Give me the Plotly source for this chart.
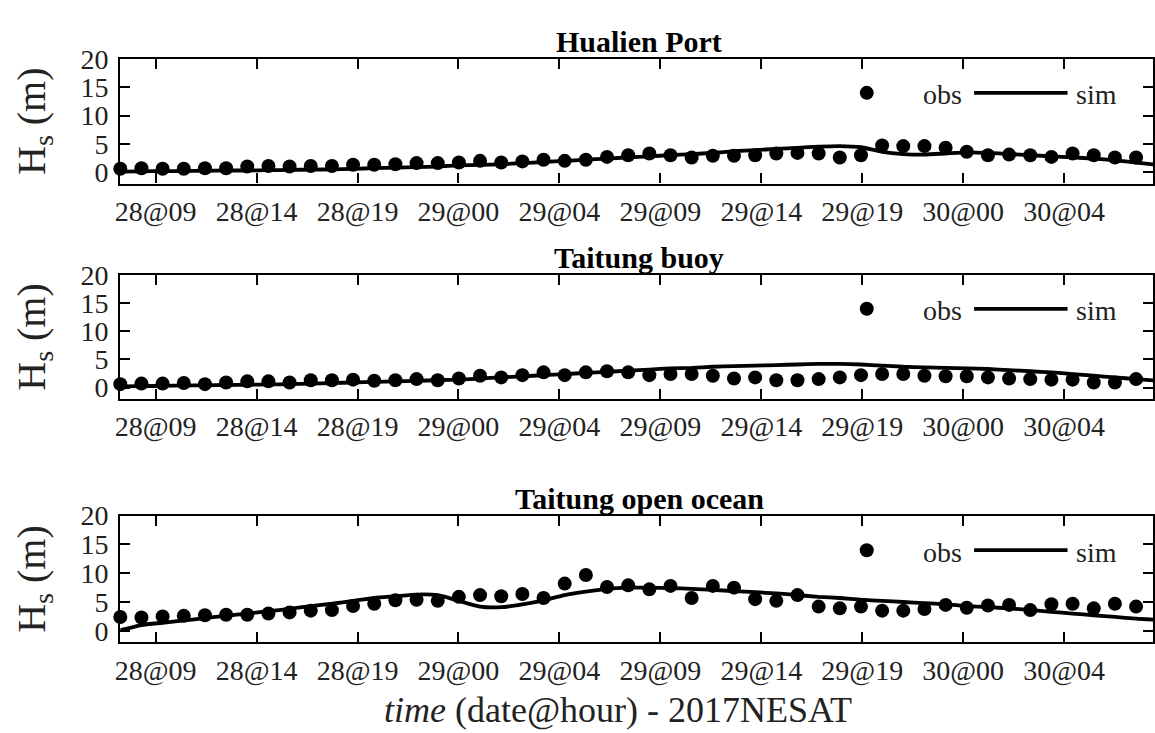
import plotly.graph_objects as go

# Hourly time index (hours since the first record)
hours = list(range(50))

tick_labels = ["28@09", "28@14", "28@19", "29@00", "29@04",
               "29@09", "29@14", "29@19", "30@00", "30@04"]
tick_first = 1.67   # hour of the first labelled tick
tick_step = 4.77    # hours between labelled ticks

stations = ["Hualien Port", "Taitung buoy", "Taitung open ocean"]

obs_hualien = [0.6, 0.7, 0.6, 0.6, 0.7, 0.7, 1.0, 1.1, 1.0, 1.1,
               1.1, 1.3, 1.3, 1.4, 1.6, 1.6, 1.7, 2.0, 1.7, 1.9,
               2.2, 2.0, 2.2, 2.7, 3.0, 3.3, 3.0, 2.6, 2.9, 2.9,
               3.0, 3.3, 3.4, 3.3, 2.6, 3.0, 4.7, 4.6, 4.6, 4.3,
               3.6, 3.0, 3.1, 3.0, 2.7, 3.3, 3.0, 2.6, 2.6, 2.3]
sim_hualien = [0.1, 0.15, 0.2, 0.2, 0.25, 0.3, 0.3, 0.35, 0.4, 0.45,
               0.5, 0.6, 0.7, 0.8, 0.9, 1.0, 1.2, 1.3, 1.4, 1.6,
               1.8, 2.0, 2.2, 2.4, 2.6, 2.8, 3.0, 3.2, 3.4, 3.7,
               3.9, 4.1, 4.3, 4.5, 4.6, 4.4, 3.6, 3.2, 3.1, 3.3,
               3.5, 3.4, 3.2, 3.0, 2.8, 2.6, 2.4, 2.1, 1.7, 1.3]

obs_buoy = [0.6, 0.7, 0.7, 0.8, 0.6, 0.9, 1.1, 1.1, 0.9, 1.3,
            1.3, 1.4, 1.2, 1.3, 1.5, 1.3, 1.6, 2.1, 1.8, 2.2,
            2.7, 2.2, 2.7, 2.9, 2.7, 2.2, 2.4, 2.4, 2.1, 1.6,
            1.8, 1.3, 1.3, 1.5, 1.8, 2.2, 2.4, 2.4, 2.1, 2.0,
            2.0, 1.8, 1.6, 1.5, 1.4, 1.4, 0.9, 0.9, 1.5, 1.4]
sim_buoy = [0.2, 0.25, 0.3, 0.35, 0.4, 0.45, 0.5, 0.55, 0.6, 0.7,
            0.8, 0.9, 1.0, 1.1, 1.2, 1.3, 1.4, 1.6, 1.8, 2.0,
            2.2, 2.4, 2.6, 2.8, 3.0, 3.2, 3.4, 3.5, 3.7, 3.8,
            3.9, 4.0, 4.1, 4.2, 4.2, 4.1, 3.9, 3.7, 3.6, 3.5,
            3.4, 3.3, 3.1, 2.9, 2.7, 2.4, 2.1, 1.8, 1.5, 1.2]

obs_open = [2.4, 2.3, 2.5, 2.6, 2.7, 2.8, 2.8, 3.0, 3.2, 3.5,
            3.6, 4.3, 4.7, 5.3, 5.4, 5.2, 5.9, 6.2, 6.0, 6.4,
            5.7, 8.2, 9.7, 7.6, 7.9, 7.2, 7.8, 5.7, 7.8, 7.5,
            5.5, 5.2, 6.2, 4.2, 3.9, 4.2, 3.5, 3.5, 3.8, 4.5,
            4.0, 4.4, 4.5, 3.6, 4.6, 4.7, 3.9, 4.7, 4.2, 4.5]
sim_open = [0.1, 1.0, 1.4, 1.8, 2.2, 2.6, 3.0, 3.4, 3.8, 4.3,
            4.7, 5.2, 5.7, 6.0, 6.3, 6.2, 5.2, 4.2, 4.1, 4.6,
            5.3, 6.2, 6.8, 7.3, 7.5, 7.5, 7.4, 7.3, 7.1, 6.9,
            6.7, 6.5, 6.2, 5.9, 5.7, 5.4, 5.2, 5.0, 4.8, 4.6,
            4.3, 4.1, 3.9, 3.6, 3.3, 3.0, 2.7, 2.4, 2.1, 1.9]

obs_series = [obs_hualien, obs_buoy, obs_open]
sim_series = [sim_hualien, sim_buoy, sim_open]

y_ticks = [0, 5, 10, 15, 20]

# ---- page geometry (pixels) ----
W, H = 1155, 733
LEFT = 116
panels_px = [(45, 173), (267, 394), (514, 644)]   # (top, bottom) of each axes box
FONT = "Liberation Serif, Times New Roman, serif"
TEXT = "#222"

tick_pos = [tick_first + tick_step * k for k in range(len(tick_labels))]


def px_x(x):
    return x / W


def px_y(y):
    return 1 - y / H


fig = go.Figure()
annotations = []
shapes = []

for i, name in enumerate(stations):
    n = "" if i == 0 else str(i + 1)
    xa, ya = "x" + n, "y" + n
    top, bot = panels_px[i]

    fig.add_trace(go.Scatter(
        x=hours, y=sim_series[i], mode="lines", xaxis=xa, yaxis=ya,
        line=dict(color="black", width=3.8, shape="spline", smoothing=0.6),
        name="sim", showlegend=False))
    fig.add_trace(go.Scatter(
        x=hours, y=obs_series[i], mode="markers", xaxis=xa, yaxis=ya,
        marker=dict(color="black", size=14), cliponaxis=False,
        name="obs", showlegend=False))

    axis_common = dict(showline=True, linecolor="black", linewidth=2.2,
                       mirror="ticks", ticks="inside", ticklen=10,
                       tickwidth=2, tickcolor="black", showgrid=False,
                       zeroline=False,
                       tickfont=dict(family=FONT, size=28, color=TEXT))
    fig.layout["xaxis" + n] = dict(
        axis_common, domain=[px_x(LEFT), 1], range=[0, 48.8],
        anchor=ya, tickmode="array", tickvals=tick_pos, ticktext=tick_labels,
        ticklabelstandoff=2)
    fig.layout["yaxis" + n] = dict(
        axis_common, domain=[px_y(bot), px_y(top)], range=[-2, 20],
        anchor=xa, tickmode="array", tickvals=y_ticks,
        ticktext=[str(v) for v in y_ticks], ticklabelstandoff=4)

    # panel title
    annotations.append(dict(
        text="<b>" + name + "</b>", x=px_x((LEFT + 1160) / 2),
        y=px_y(top - 18), xref="paper", yref="paper",
        xanchor="center", yanchor="middle", showarrow=False,
        font=dict(family=FONT, size=30, color="black")))
    # y-axis title
    annotations.append(dict(
        text="H<sub>s</sub> (m)", x=px_x(29), y=px_y((top + bot) / 2),
        xref="paper", yref="paper", xanchor="center", yanchor="middle",
        textangle=-90, showarrow=False,
        font=dict(family=FONT, size=40, color=TEXT)))

    # in-panel legend: dot "obs", line "sim"
    leg_y = (14 - (-2)) / 22
    yd = ya + " domain"
    shapes.append(dict(
        type="circle", xref="paper", yref=yd,
        xsizemode="pixel", ysizemode="pixel",
        xanchor=px_x(867), yanchor=leg_y,
        x0=-7, x1=7, y0=-7, y1=7,
        fillcolor="black", line=dict(color="black", width=0)))
    shapes.append(dict(
        type="line", xref="paper", yref=yd,
        x0=px_x(975), x1=px_x(1069), y0=leg_y, y1=leg_y,
        line=dict(color="black", width=3.8)))
    for label, cx in (("obs", 943), ("sim", 1098)):
        annotations.append(dict(
            text=label, x=px_x(cx), y=leg_y, xref="paper", yref=yd,
            xanchor="center", yanchor="middle", yshift=-2, showarrow=False,
            font=dict(family=FONT, size=28, color=TEXT)))

# x-axis title under the last panel
annotations.append(dict(
    text="<i>time</i> (date@hour) - 2017NESAT", x=px_x(617), y=px_y(713),
    xref="paper", yref="paper", xanchor="center", yanchor="middle",
    showarrow=False, font=dict(family=FONT, size=36, color=TEXT)))

fig.update_layout(
    width=W, height=H, margin=dict(l=0, r=0, t=0, b=0),
    paper_bgcolor="white", plot_bgcolor="white",
    showlegend=False, annotations=annotations, shapes=shapes)

fig.write_html("out.html")
